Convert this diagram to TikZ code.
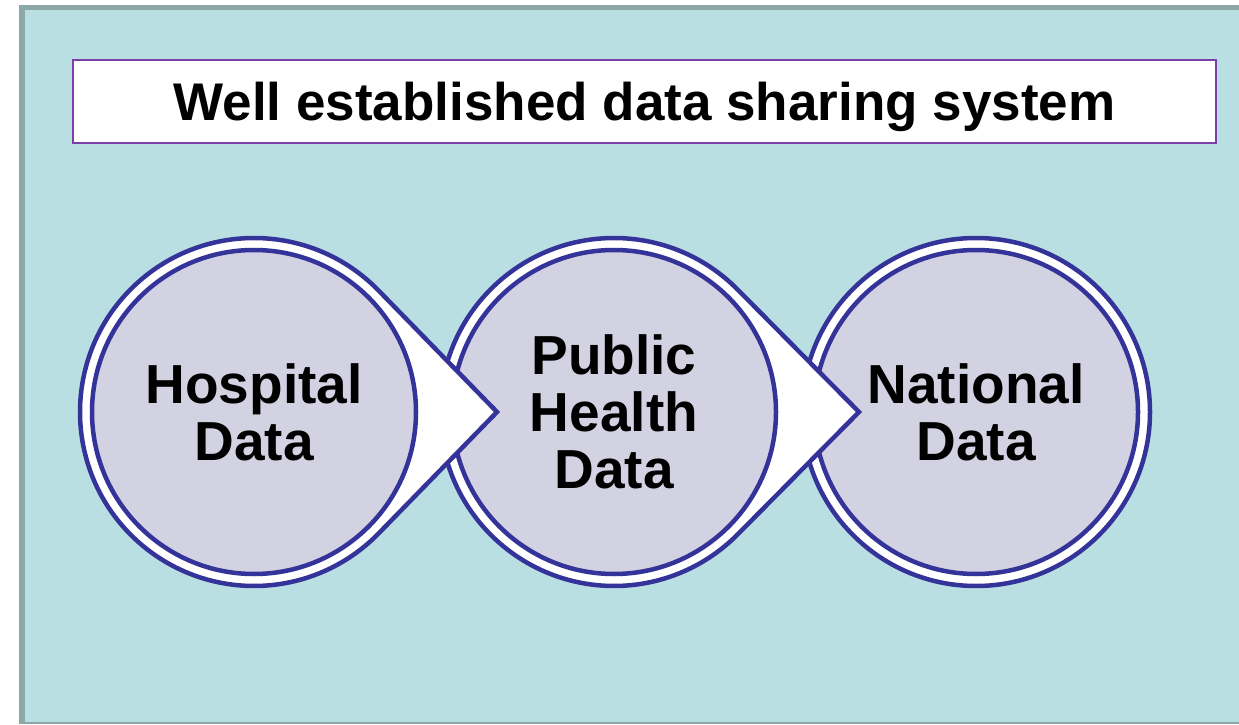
\documentclass[tikz,border=0pt]{standalone}
\usepackage{fontspec}
\setmainfont{Liberation Sans}
\usetikzlibrary{calc}
\definecolor{panelteal}{HTML}{BADFE2}
\definecolor{panelgrey}{HTML}{8BA7A8}
\definecolor{ringblue}{HTML}{333399}
\definecolor{disclav}{HTML}{D3D2E2}
\definecolor{titlepurple}{HTML}{7B3FA9}
\begin{document}
\begin{tikzpicture}[x=1pt,y=1pt,
  outerring/.style={fill=white, draw=ringblue, line width=4.5pt, line join=miter},
  disc/.style={circle, fill=disclav, draw=ringblue, line width=4.5pt,
    minimum size=324pt, inner sep=0pt, align=center,
    font=\fontsize{55}{57}\selectfont\bfseries},
  titlebox/.style={rectangle, fill=white, draw=titlepurple, line width=2pt,
    minimum width=1143pt, minimum height=83.5pt, inner sep=0pt, text depth=0pt,
    font=\fontsize{53}{60}\selectfont\bfseries}]
\useasboundingbox (0,0) rectangle (1239,724);

% panel with its darker frame on the left and top
\fill[panelgrey] (19,0) rectangle (1239,719);
\fill[panelteal] (25,2) rectangle (1239,714);

% heading
\node[titlebox] (title) at (644.5,622.7) {Well established data sharing system};

% third stage (drawn first, so the pointer of the second one lies on top)
\coordinate (c3) at (976,312);
\draw[outerring] (c3) circle[radius=174pt];
\node[disc] (n3) at (c3) {National\\Data};

% second stage with its pointer
\coordinate (c2) at (614,312);
\coordinate (t2) at (859,312);
\draw[outerring] (t2) -- ($(c2)+(44.75:174)$)
  arc[start angle=44.75, end angle=315.25, radius=174pt] -- cycle;
\node[disc] (n2) at (c2) {Public\\Health\\Data};

% first stage with its pointer
\coordinate (c1) at (254,312);
\coordinate (t1) at (497,312);
\draw[outerring] (t1) -- ($(c1)+(44.27:174)$)
  arc[start angle=44.27, end angle=315.73, radius=174pt] -- cycle;
\node[disc] (n1) at (c1) {Hospital\\Data};
\end{tikzpicture}
\end{document}
